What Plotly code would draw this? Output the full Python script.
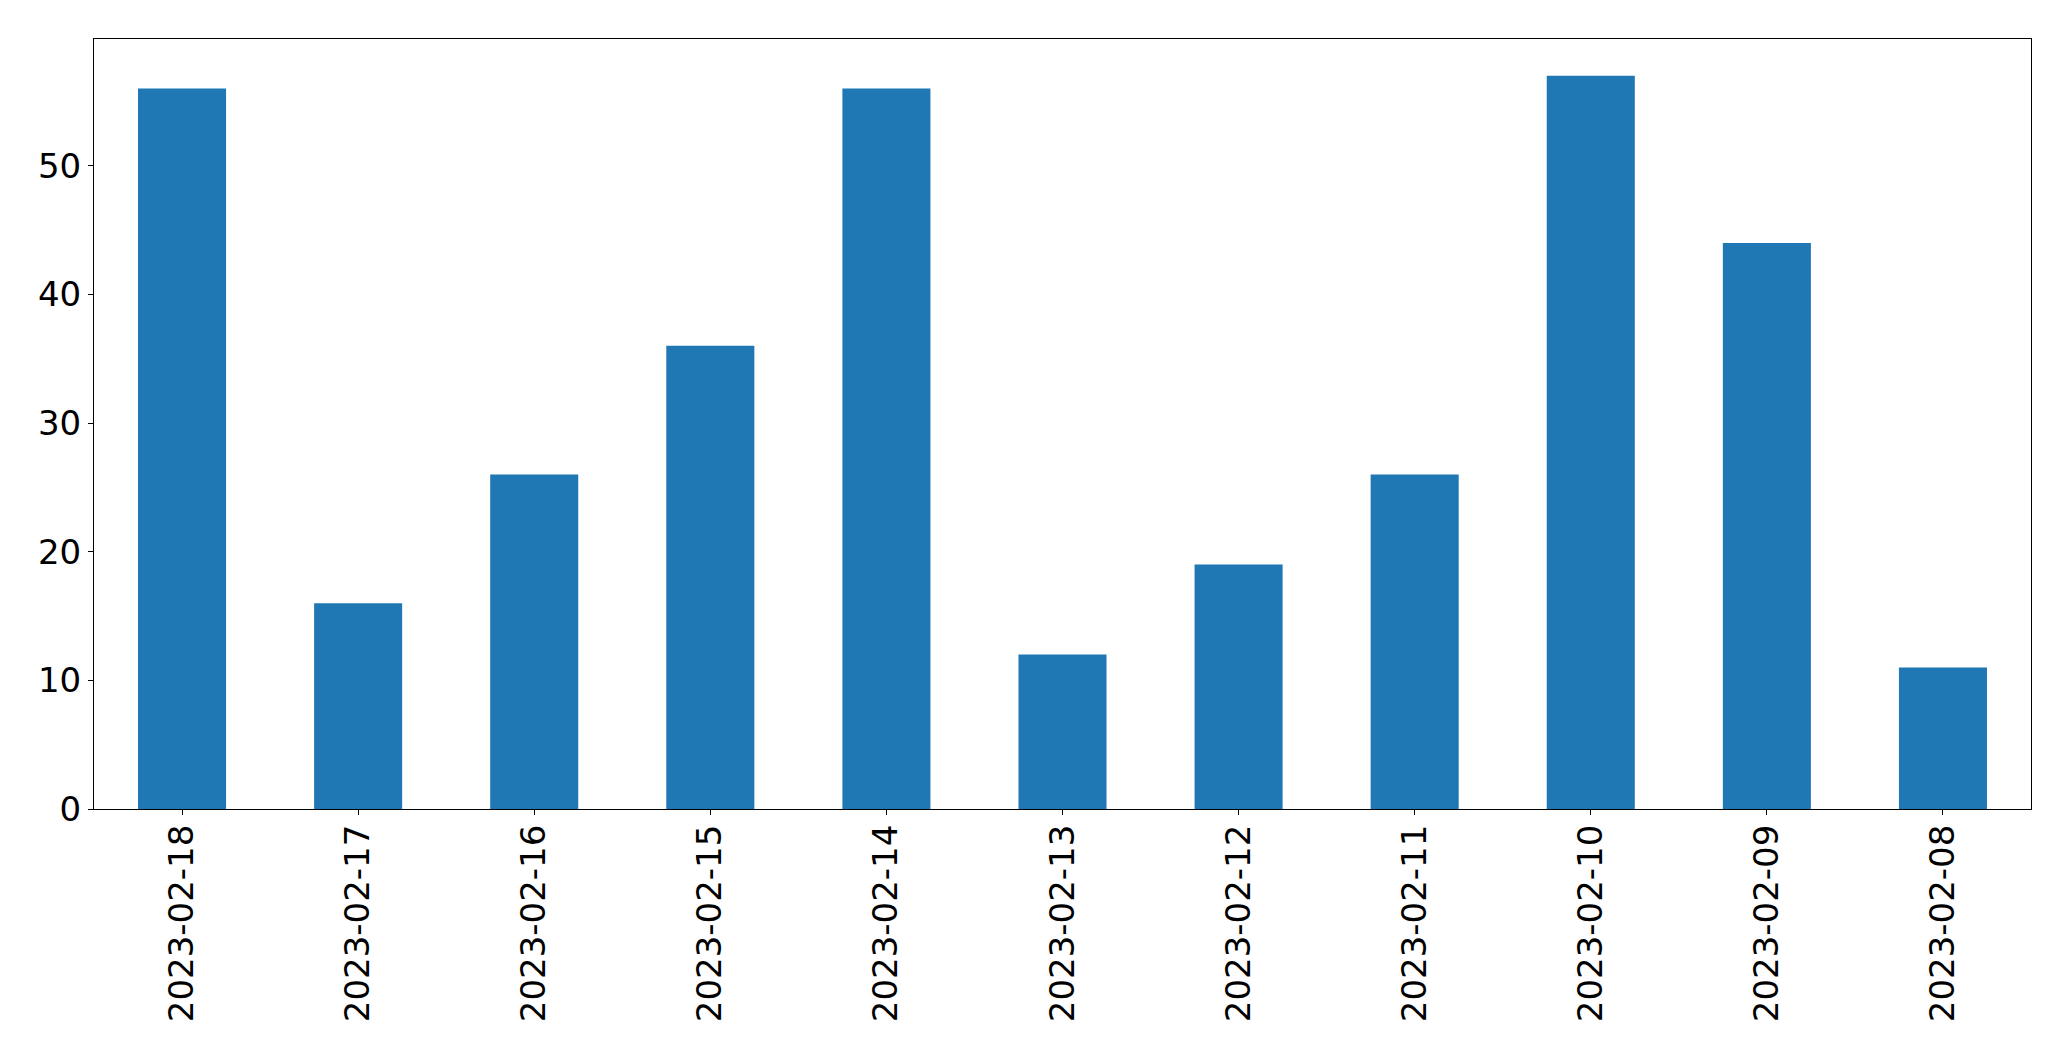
import plotly.graph_objects as go

dates = ["2023-02-18", "2023-02-17", "2023-02-16", "2023-02-15", "2023-02-14",
         "2023-02-13", "2023-02-12", "2023-02-11", "2023-02-10", "2023-02-09",
         "2023-02-08"]
counts = [56, 16, 26, 36, 56, 12, 19, 26, 57, 44, 11]
y_ticks = [0, 10, 20, 30, 40, 50]

fig = go.Figure(go.Bar(x=dates, y=counts, width=0.5, marker_color="#1f77b4",
                       marker_line_width=0))

font = dict(family="DejaVu Sans", size=34, color="black")
fig.update_layout(
    width=2071, height=1061,
    margin=dict(l=94, r=40, t=39, b=252),
    paper_bgcolor="white", plot_bgcolor="white",
    showlegend=False,
    font=font,
)
fig.update_xaxes(type="category", range=[-0.5, len(dates) - 0.5],
                 showline=True, linecolor="black", linewidth=1.1, mirror=True,
                 ticks="outside", ticklen=5, tickwidth=1.1, tickcolor="black",
                 tickangle=-90, showgrid=False, tickfont=font, ticklabelstandoff=-4)
fig.update_yaxes(range=[0, 59.85], tickvals=y_ticks,
                 showline=True, linecolor="black", linewidth=1.1, mirror=True,
                 ticks="outside", ticklen=5, tickwidth=1.1, tickcolor="black",
                 showgrid=False, zeroline=False, tickfont=font, ticklabelstandoff=0)

fig.write_html("out.html", config={"displayModeBar": False},
               post_script="document.body.style.margin='0';document.body.style.overflow='hidden';")
